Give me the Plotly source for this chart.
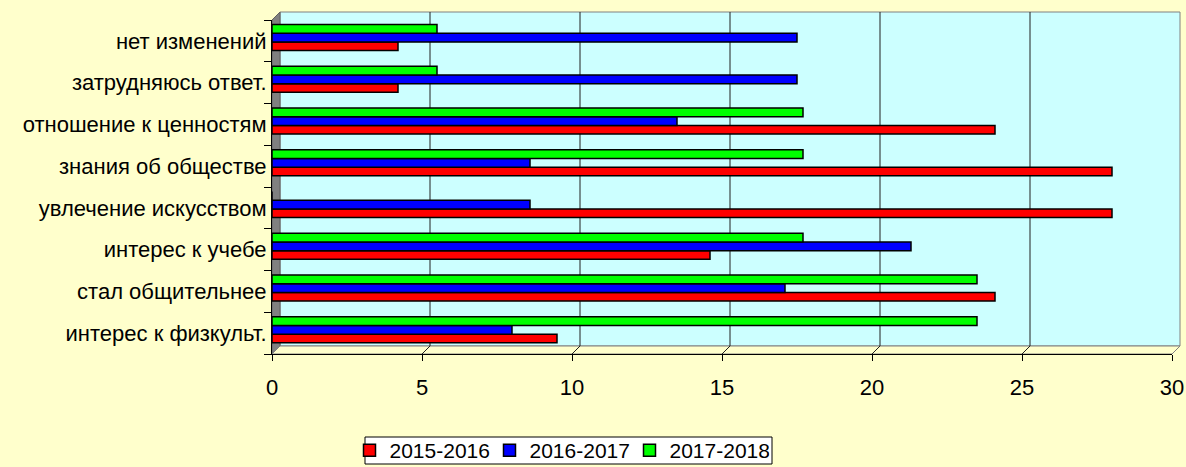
import plotly.graph_objects as go

categories = ["интерес к физкульт.", "стал общительнее", "интерес к учебе",
              "увлечение искусством", "знания об обществе", "отношение к ценностям",
              "затрудняюсь ответ.", "нет изменений"]
series_names = ["2015-2016", "2016-2017", "2017-2018"]
v_2015 = [9.5, 24.1, 14.6, 28.0, 28.0, 24.1, 4.2, 4.2]
v_2016 = [8.0, 17.1, 21.3, 8.6, 8.6, 13.5, 17.5, 17.5]
v_2017 = [23.5, 23.5, 17.7, 0.0, 17.7, 17.7, 5.5, 5.5]
x_ticks = [0, 5, 10, 15, 20, 25, 30]

colors = ["#FF0000", "#0000FF", "#00FF00"]
PAPER = "#FFFFCC"
WALL = "#CCFFFF"

W, H = 1186, 467
ML, MR, MT, MB = 272, 14, 20, 113
PW = W - ML - MR
PH = H - MT - MB
DEPTH = 8  # px of 3D depth
dx = DEPTH / PW
dy = DEPTH / PH
x_max = x_ticks[-1]
dx_data = DEPTH * x_max / PW


def px_x(p):
    return (p - ML) / PW


def px_y(p):
    return (MT + PH - p) / PH


fig = go.Figure()
bw = 0.208
offsets = [-0.232, -0.024, 0.184]
for name, vals, col, off in zip(series_names, [v_2015, v_2016, v_2017], colors, offsets):
    fig.add_trace(go.Bar(
        y=categories, x=vals, name=name, orientation="h",
        marker=dict(color=col, line=dict(color="black", width=1.5)),
        width=bw, offset=off,
    ))

shapes = []
shapes.append(dict(type="rect", xref="paper", yref="paper", x0=dx, x1=1 + dx, y0=dy, y1=1 + dy,
                   fillcolor=WALL, line=dict(color="#808080", width=1), layer="below"))
shapes.append(dict(type="path", xref="paper", yref="paper",
                   path=f"M 0 0 L {dx} {dy} L {dx} {1+dy} L 0 1 Z",
                   fillcolor="#808080", line=dict(color="#606060", width=1), layer="below"))
shapes.append(dict(type="path", xref="paper", yref="paper",
                   path=f"M 0 0 L 1 0 L {1+dx} {dy} L {dx} {dy} Z",
                   fillcolor=PAPER, line=dict(color="#808080", width=1), layer="below"))
for t in x_ticks[1:-1]:
    shapes.append(dict(type="line", xref="x", yref="paper", x0=t + dx_data, x1=t + dx_data,
                       y0=dy, y1=1 + dy, line=dict(color="#202020", width=1), layer="below"))
    shapes.append(dict(type="line", xref="x", yref="paper", x0=t, x1=t + dx_data,
                       y0=0, y1=dy, line=dict(color="#202020", width=1), layer="below"))
# legend frame
shapes.append(dict(type="rect", xref="paper", yref="paper",
                   x0=px_x(365), x1=px_x(772), y0=px_y(464), y1=px_y(437),
                   fillcolor="#FFFFFF", line=dict(color="black", width=1), layer="below"))

fig.update_layout(
    width=W, height=H,
    margin=dict(l=ML, r=MR, t=MT, b=MB, autoexpand=False),
    paper_bgcolor=PAPER, plot_bgcolor="rgba(0,0,0,0)",
    font=dict(family="Liberation Sans, Arial, sans-serif", size=22, color="black"),
    barmode="group",
    shapes=shapes,
    showlegend=True,
    legend=dict(orientation="h", x=px_x(559.5), xanchor="center",
                y=px_y(430), yanchor="top",
                bgcolor="rgba(0,0,0,0)", borderwidth=0,
                font=dict(size=21), itemwidth=30, traceorder="normal",
                entrywidth=95, entrywidthmode="pixels"),
    xaxis=dict(range=[0, x_max], tickvals=x_ticks, showgrid=False, zeroline=False,
               showline=True, linecolor="black", linewidth=1, automargin=False,
               ticks="outside", ticklen=6, tickcolor="black", ticklabelstandoff=8),
    yaxis=dict(categoryorder="array", categoryarray=categories, showgrid=False,
               showline=True, linecolor="black", linewidth=1, automargin=False,
               ticks="outside", ticklen=7, tickcolor="black", tickson="boundaries",
               range=[-0.5, len(categories) - 0.5]),
)

fig.write_html("out.html", config={"displayModeBar": False},
               post_script="document.body.style.margin='0';document.body.style.padding='0';")
